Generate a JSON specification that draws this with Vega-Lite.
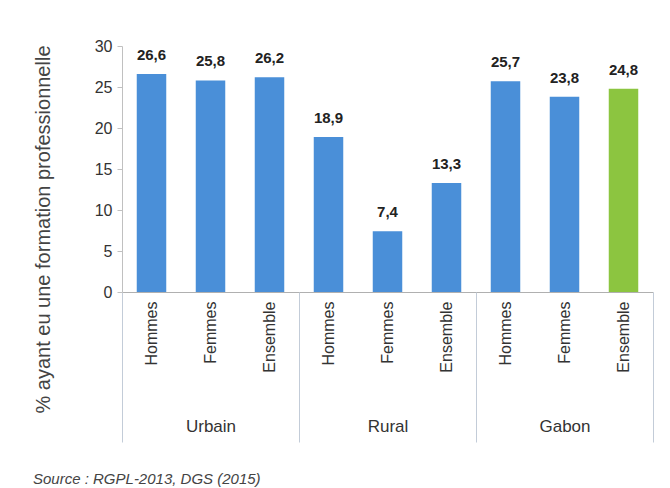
{
  "$schema": "https://vega.github.io/schema/vega-lite/v6.json",
  "width": 531,
  "height": 246,
  "autosize": {"type": "none"},
  "padding": {"left": 122, "top": 46, "right": 17, "bottom": 196},
  "background": "white",
  "config": {
    "view": {"stroke": null},
    "font": "Liberation Sans",
    "locale": {"number": {"decimal": ",", "thousands": " ", "grouping": [3], "currency": ["", " €"]}}
  },
  "title": {
    "text": "Source : RGPL-2013, DGS (2015)",
    "orient": "bottom",
    "anchor": "start",
    "frame": "bounds",
    "font": "Liberation Sans",
    "fontStyle": "italic",
    "fontWeight": "normal",
    "fontSize": 15,
    "color": "#444444",
    "offset": 29
  },
  "data": {
    "values": [
      {"key": "Urbain|Hommes", "group": "Urbain", "sex": "Hommes", "value": 26.6},
      {"key": "Urbain|Femmes", "group": "Urbain", "sex": "Femmes", "value": 25.8},
      {"key": "Urbain|Ensemble", "group": "Urbain", "sex": "Ensemble", "value": 26.2},
      {"key": "Rural|Hommes", "group": "Rural", "sex": "Hommes", "value": 18.9},
      {"key": "Rural|Femmes", "group": "Rural", "sex": "Femmes", "value": 7.4},
      {"key": "Rural|Ensemble", "group": "Rural", "sex": "Ensemble", "value": 13.3},
      {"key": "Gabon|Hommes", "group": "Gabon", "sex": "Hommes", "value": 25.7},
      {"key": "Gabon|Femmes", "group": "Gabon", "sex": "Femmes", "value": 23.8},
      {"key": "Gabon|Ensemble", "group": "Gabon", "sex": "Ensemble", "value": 24.8}
    ]
  },
  "layer": [
    {
      "layer": [
        {
          "mark": {"type": "bar"},
          "encoding": {
            "x": {
              "field": "key",
              "type": "nominal",
              "sort": null,
              "scale": {"paddingInner": 0.5, "paddingOuter": 0.25},
              "axis": {
                "orient": "bottom",
                "title": null,
                "labelExpr": "split(datum.label, '|')[1]",
                "labelAngle": -90,
                "labelAlign": "right",
                "labelBaseline": "middle",
                "labelPadding": 9,
                "labelFontSize": 16,
                "labelColor": "#333333",
                "ticks": false,
                "domain": true,
                "domainColor": "#b0b0b0",
                "grid": false
              }
            },
            "y": {
              "field": "value",
              "type": "quantitative",
              "scale": {"domain": [0, 30]},
              "axis": {
                "values": [0, 5, 10, 15, 20, 25, 30],
                "grid": false,
                "domain": true,
                "domainColor": "#c0c0c0",
                "tickColor": "#c0c0c0",
                "tickSize": 5,
                "labelFontSize": 16,
                "labelColor": "#333333",
                "labelPadding": 5,
                "title": "% ayant eu une formation professionnelle",
                "titleFontSize": 20,
                "titleFontWeight": "normal",
                "titleColor": "#444444",
                "titleAngle": 270,
                "titleAlign": "center",
                "titleBaseline": "alphabetic",
                "titleX": -73,
                "titleY": 183
              }
            },
            "color": {
              "condition": {"test": "datum.key === 'Gabon|Ensemble'", "value": "#8cc540"},
              "value": "#4a8fd8"
            }
          }
        },
        {
          "mark": {"type": "text", "fontWeight": "bold", "fontSize": 15, "color": "#222222", "baseline": "alphabetic", "dy": -14},
          "encoding": {
            "x": {"field": "key", "type": "nominal", "sort": null},
            "y": {"field": "value", "type": "quantitative"},
            "text": {"field": "value", "type": "quantitative", "format": ".1f"}
          }
        }
      ]
    },
    {
      "mark": {"type": "point", "opacity": 0},
      "encoding": {
        "x": {
          "field": "group",
          "type": "nominal",
          "sort": null,
          "scale": {"paddingInner": 0, "paddingOuter": 0},
          "axis": {
            "orient": "bottom",
            "title": null,
            "domain": false,
            "grid": false,
            "tickBand": "extent",
            "tickSize": 150,
            "tickColor": "#c3ccd8",
            "labelAngle": 0,
            "labelFontSize": 17,
            "labelColor": "#333333",
            "labelPadding": -24
          }
        },
        "y": {"field": "value", "type": "quantitative"}
      }
    }
  ],
  "resolve": {"scale": {"x": "independent"}, "axis": {"x": "independent"}}
}
